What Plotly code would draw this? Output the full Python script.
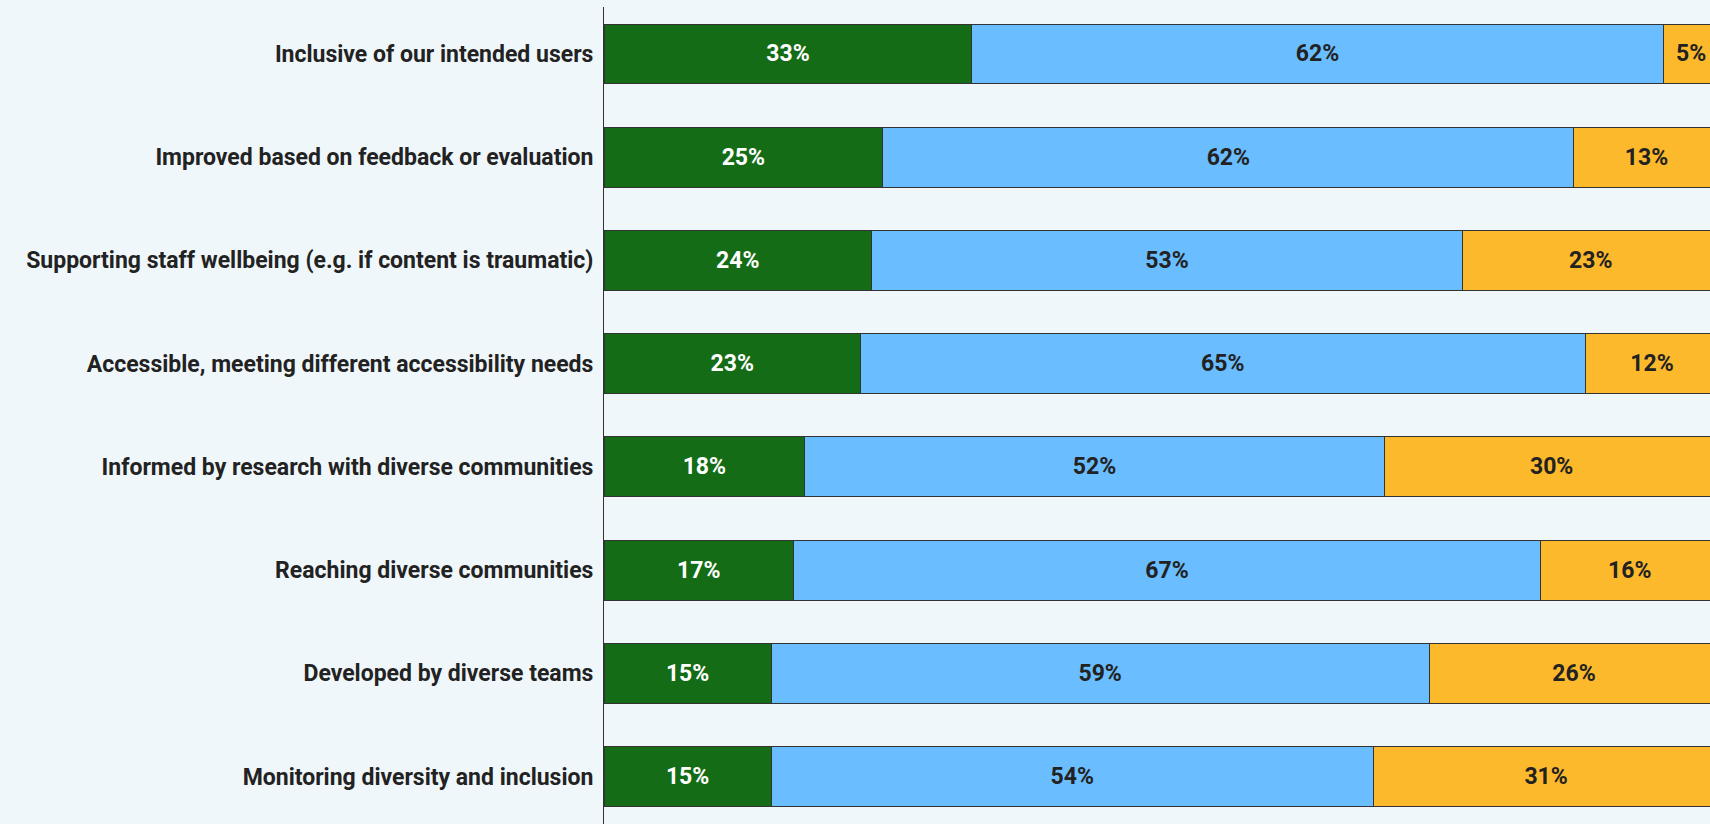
import plotly.graph_objects as go

categories = [
    "Inclusive of our intended users",
    "Improved based on feedback or evaluation",
    "Supporting staff wellbeing (e.g. if content is traumatic)",
    "Accessible, meeting different accessibility needs",
    "Informed by research with diverse communities",
    "Reaching diverse communities",
    "Developed by diverse teams",
    "Monitoring diversity and inclusion",
]
series_names = ["Green", "Blue", "Orange"]
green_vals = [33, 25, 24, 23, 18, 17, 15, 15]
blue_vals = [62, 62, 53, 65, 52, 67, 59, 54]
orange_vals = [5, 13, 23, 12, 30, 16, 26, 31]

colors = ["#156c16", "#6abdfe", "#fdb92c"]
text_colors = ["#ffffff", "#222222", "#222222"]
FONT = "Roboto"

fig = go.Figure()
for name, vals, col, tcol in zip(series_names, [green_vals, blue_vals, orange_vals], colors, text_colors):
    fig.add_trace(go.Bar(
        y=categories,
        x=vals,
        orientation="h",
        name=name,
        marker=dict(color=col, line=dict(color="#333333", width=1)),
        text=[f"{v}%" for v in vals],
        textposition="inside",
        insidetextanchor="middle",
        textangle=0,
        constraintext="none",
        textfont=dict(family=FONT, size=23, color=tcol, weight="bold"),
        hoverinfo="skip",
    ))

fig.update_layout(
    barmode="stack",
    bargap=0.42,
    width=1710,
    height=824,
    margin=dict(l=604, r=0, t=7, b=0),
    paper_bgcolor="#f0f7fa",
    plot_bgcolor="#f0f7fa",
    showlegend=False,
    uniformtext=dict(mode=False),
    xaxis=dict(range=[0, 99.2], visible=False, fixedrange=True),
    yaxis=dict(
        categoryorder="array",
        categoryarray=categories,
        range=[7.46, -0.455],
        showline=True,
        linecolor="#333333",
        linewidth=1,
        ticks="",
        ticklabelstandoff=5,
        showgrid=False,
        tickfont=dict(family=FONT, size=23, color="#222222", weight="bold"),
    ),
)

fig.write_html("out.html")
